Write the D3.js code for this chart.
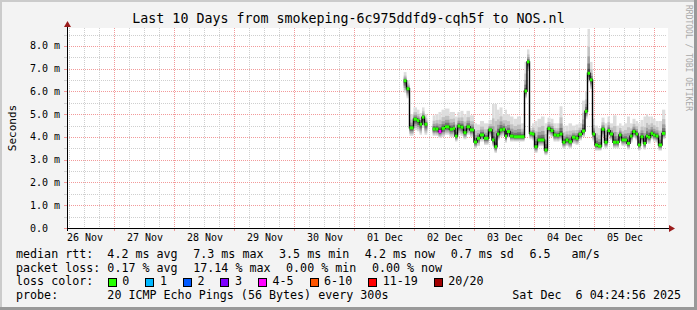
<!DOCTYPE html>
<html>
<head>
<meta charset="utf-8">
<script src="https://cdn.jsdelivr.net/npm/d3@7"></script>
<style>
  body { margin: 0; background: #f3f3f3; }
  svg { display: block; }
  text { font-family: "DejaVu Sans Mono", monospace; white-space: pre; }
</style>
</head>
<body>
<div id="chart"></div>
<script>
// smokeping style latency graph, last 10 days

// time axis (UTC)
const tStart = Date.UTC(2025, 10, 26, 5, 12);
const tEnd = Date.UTC(2025, 11, 6, 5, 12);
const dayLabels = ['26 Nov', '27 Nov', '28 Nov', '29 Nov', '30 Nov', '01 Dec', '02 Dec', '03 Dec', '04 Dec', '05 Dec'];

// y ticks (ms)
const yTicks = [0, 1, 2, 3, 4, 5, 6, 7, 8];
const yTickLabels = ['0.0', '1.0 m', '2.0 m', '3.0 m', '4.0 m', '5.0 m', '6.0 m', '7.0 m', '8.0 m'];

// samples: hours after 01 Dec 00:00
const hours = [20.4, 21.6, 22.8, 24.8, 25.6, 26.8, 27.6, 28.8, 30.4, 32.0, 33.2, 34.4, 35.6, 37.2, 39.2, 40.0, 40.8, 42.0, 43.2, 44.4, 45.6, 47.2,
  48.8, 49.6, 51.2, 52.8, 54.8, 55.6, 56.8, 57.6, 58.8, 60.0, 60.8, 61.6, 63.2, 64.4, 66.0, 67.6, 68.8, 69.6, 70.8, 71.6,
  72.8, 74.0, 75.6, 76.8, 78.0, 79.2, 80.4, 81.6, 82.8, 84.0, 85.2, 86.4, 88.0, 89.2, 90.4, 92.0, 92.8, 94.0, 94.8,
  96.0, 96.8, 98.4, 99.6, 100.8, 102.0, 102.8, 104.4, 105.6, 106.4, 107.6, 108.4, 110.0, 110.8, 112.0, 113.2, 114.0,
  115.2, 116.4, 117.2, 118.0, 119.2, 120.0, 121.2, 122.4, 124.0];
// median rtt (ms)
const medianMs = [6.47, 6.12, 4.40, 4.78, 4.72, 4.56, 4.87, 4.56, null, 4.35, 4.35, 4.24, 4.38, 4.45, 4.34, 4.38, 4.04, 4.48, 4.43, 4.19, 4.45, 4.31,
  3.78, 3.94, 4.09, 3.94, 4.31, 3.87, 3.57, 4.13, 4.31, 4.34, 4.04, 4.24, 4.04, 4.01, 4.01, 4.01, 6.02, 7.30, 4.16, 4.13,
  3.57, 3.87, 3.87, 3.43, 4.37, 4.28, 4.09, 4.07, 4.13, 3.77, 3.87, 3.79, 3.99, 3.94, 4.12, 4.26, 5.13, 6.80, 6.51,
  4.13, 3.65, 3.60, 4.34, 3.77, 4.28, 4.13, 3.77, 3.77, 4.09, 3.87, 3.87, 3.72, 4.04, 4.24, 4.13, 3.65,
  4.01, 3.72, 4.04, 3.99, 4.16, 4.09, 4.04, 3.65, 4.16];
// slowest ping (top of smoke, ms)
const smokeHiMs = [6.85, 6.5, 5.0, 5.3, 5.2, 5.05, 5.3, 5.0, null, 4.95, 5.0, 5.1, 5.2, 5.25, 5.1, 5.1, 4.9, 5.1, 5.15, 5.0, 5.15, 4.95,
  4.6, 4.55, 4.7, 4.6, 4.75, 5.45, 5.45, 5.2, 5.3, 5.0, 5.2, 5.0, 4.9, 4.8, 4.9, 4.6, 7.3, 7.85, 4.4, 4.6,
  4.7, 4.8, 4.9, 4.6, 4.85, 4.8, 4.6, 4.6, 5.35, 4.5, 4.5, 4.6, 4.5, 4.55, 4.6, 5.6, 6.0, 8.75, 7.3,
  4.8, 4.5, 4.4, 4.85, 4.6, 4.9, 4.6, 4.95, 4.5, 4.6, 4.5, 4.6, 4.9, 4.6, 4.8, 4.7, 4.6,
  4.75, 4.9, 5.0, 4.9, 4.9, 4.8, 4.7, 4.7, 5.2];
// fastest ping (bottom of smoke, ms)
const smokeLoMs = [5.95, 5.7, 4.05, 4.3, 4.25, 4.1, 4.4, 4.1, null, 4.05, 4.05, 3.95, 4.0, 4.1, 4.0, 4.0, 3.8, 4.1, 4.05, 3.9, 4.1, 4.0,
  3.5, 3.6, 3.8, 3.65, 4.0, 3.6, 3.3, 3.85, 4.0, 4.05, 3.75, 3.95, 3.8, 3.8, 3.8, 3.8, 5.7, 6.9, 3.9, 3.85,
  3.3, 3.6, 3.6, 3.2, 4.1, 4.0, 3.8, 3.8, 3.85, 3.5, 3.6, 3.5, 3.7, 3.65, 3.85, 4.0, 4.8, 6.4, 6.1,
  3.8, 3.4, 3.4, 4.0, 3.5, 4.0, 3.85, 3.5, 3.5, 3.8, 3.6, 3.6, 3.45, 3.75, 3.95, 3.85, 3.4,
  3.75, 3.45, 3.75, 3.7, 3.9, 3.8, 3.75, 3.4, 3.9];
// samples that lost pings
const lossHours = [34.4];
const lossCounts = [4];

// loss colour legend
const lossLabels = ['0', '1', '2', '3', '4-5', '6-10', '11-19', '20/20'];
const lossMax = [0, 1, 2, 3, 5, 10, 19, 20];
const lossColors = ['#26ff00', '#00b8ff', '#0059ff', '#7e00ff', '#ff00ff', '#ff5500', '#ff0000', '#a10000'];

// legend text
const rttStats = ['median rtt:  4.2 ms avg', '7.3 ms max', '3.5 ms min', '4.2 ms now', '0.7 ms sd', '6.5   am/s'];
const lossStats = ['packet loss: 0.17 % avg', '17.14 % max', '0.00 % min', '0.00 % now'];
const probeText = 'probe:       20 ICMP Echo Pings (56 Bytes) every 300s';
const stampText = 'Sat Dec  6 04:24:56 2025';
const titleText = 'Last 10 Days from smokeping-6c975ddfd9-cqh5f to NOS.nl';

const width = 697, height = 310;
const plotL = 67, plotR = 667, plotT = 28, plotB = 228;

const svg = d3.select('#chart').append('svg')
  .attr('width', width)
  .attr('height', height);

// frame
svg.append('rect').attr('width', width).attr('height', height).attr('fill', '#f3f3f3');
svg.append('rect').attr('x', 0).attr('y', 0).attr('width', width).attr('height', 2).attr('fill', '#cbcbcb');
svg.append('rect').attr('x', 0).attr('y', 0).attr('width', 2).attr('height', height).attr('fill', '#cbcbcb');
svg.append('rect').attr('x', width - 3).attr('y', 0).attr('width', 3).attr('height', height).attr('fill', '#999');
svg.append('rect').attr('x', 0).attr('y', height - 3).attr('width', width).attr('height', 3).attr('fill', '#999');

const x = d3.scaleUtc().domain([tStart, tEnd]).range([plotL, plotR]);
const y = d3.scaleLinear().domain([0, 8.79]).range([plotB, plotT]);
const px = v => Math.round(v) + 0.5;

// canvas
svg.append('rect')
  .attr('x', plotL).attr('y', plotT)
  .attr('width', plotR - plotL + 1).attr('height', plotB - plotT)
  .attr('fill', '#fff');

// grid
const grid = svg.append('g').attr('fill', 'none').attr('stroke-dasharray', '1,1');
const sixHours = d3.utcHour.every(6).range(tStart, tEnd).filter(d => d.getUTCHours() !== 0);
const midnights = d3.utcDay.range(tStart, tEnd);
grid.selectAll('.vmin').data(sixHours).enter().append('line')
  .attr('x1', d => px(x(d))).attr('x2', d => px(x(d)))
  .attr('y1', plotT).attr('y2', plotB)
  .attr('stroke', '#cfcfcf');
const halfTicks = d3.range(0.5, 8.79, 1);
grid.selectAll('.hmin').data(halfTicks).enter().append('line')
  .attr('x1', plotL).attr('x2', plotR)
  .attr('y1', d => px(y(d))).attr('y2', d => px(y(d)))
  .attr('stroke', '#cfcfcf');
grid.selectAll('.vmaj').data(midnights).enter().append('line')
  .attr('x1', d => px(x(d))).attr('x2', d => px(x(d)))
  .attr('y1', plotT).attr('y2', plotB)
  .attr('stroke', '#f29a9a');
grid.selectAll('.hmaj').data(yTicks.slice(1)).enter().append('line')
  .attr('x1', plotL).attr('x2', plotR)
  .attr('y1', d => px(y(d))).attr('y2', d => px(y(d)))
  .attr('stroke', '#f29a9a');

// samples
const dec1 = Date.UTC(2025, 11, 1);
const samples = hours.map((h, i) => ({
  t: dec1 + h * 3600e3,
  h: h,
  m: medianMs[i],
  hi: smokeHiMs[i],
  lo: smokeLoMs[i]
}));
samples.forEach((d, i) => {
  const xc = x(d.t);
  const prev = samples[i - 1], next = samples[i + 1];
  d.x0 = prev && prev.m != null ? (x(prev.t) + xc) / 2 : xc - 1.3;
  d.x1 = next && next.m != null ? (x(next.t) + xc) / 2 : xc + 1.3;
  const li = lossHours.indexOf(d.h);
  const lost = li >= 0 ? lossCounts[li] : 0;
  d.color = lossColors[lossMax.findIndex(m => lost <= m)];
});
const valid = samples.filter(d => d.m != null);

// smoke, outer (light) bands first
const upFrac = [1, 0.6, 0.38, 0.22, 0.1];
const downFrac = [1, 0.8, 0.6, 0.4, 0.2];
const smokeGrey = ['#dddddd', '#c2c2c2', '#a0a0a0', '#747474', '#474747'];
const smoke = svg.append('g');
upFrac.forEach((f, k) => {
  smoke.selectAll('.s' + k).data(valid).enter().append('rect')
    .attr('x', d => d.x0)
    .attr('width', d => d.x1 - d.x0)
    .attr('y', d => y(d.m + f * (d.hi - d.m)))
    .attr('height', d => y(d.m - downFrac[k] * (d.m - d.lo)) - y(d.m + f * (d.hi - d.m)))
    .attr('fill', smokeGrey[k]);
});

// median line
const line = d3.line()
  .defined(d => d.m != null)
  .x(d => x(d.t))
  .y(d => y(d.m))
  .curve(d3.curveStep);
svg.append('path')
  .datum(samples)
  .attr('d', line)
  .attr('fill', 'none')
  .attr('stroke', '#000')
  .attr('stroke-width', 1.4);

svg.append('g').selectAll('rect').data(valid).enter().append('rect')
  .attr('x', d => d.x0)
  .attr('width', d => d.x1 - d.x0)
  .attr('y', d => y(d.m) - 1.5)
  .attr('height', 3)
  .attr('fill', d => d.color);

// axes
const arrow = '#9b1c1c';
svg.append('line').attr('x1', plotL - 3).attr('x2', plotR + 2)
  .attr('y1', plotB + 0.5).attr('y2', plotB + 0.5).attr('stroke', '#000');
svg.append('path').attr('d', `M${plotR + 2},${plotB - 3}L${plotR + 8},${plotB + 0.5}L${plotR + 2},${plotB + 4}Z`).attr('fill', arrow);
svg.append('line').attr('x1', plotL + 0.5).attr('x2', plotL + 0.5)
  .attr('y1', plotB + 3).attr('y2', plotT - 1).attr('stroke', '#000');
svg.append('path').attr('d', `M${plotL - 3},${plotT - 1}L${plotL + 0.5},${plotT - 7}L${plotL + 4},${plotT - 1}Z`).attr('fill', arrow);

// axis ticks
svg.append('g').selectAll('line').data(midnights).enter().append('line')
  .attr('x1', d => px(x(d))).attr('x2', d => px(x(d)))
  .attr('y1', plotB + 1).attr('y2', plotB + 3)
  .attr('stroke', '#f29a9a');
svg.append('g').selectAll('line').data(yTicks.concat(halfTicks)).enter().append('line')
  .attr('x1', plotL - 3).attr('x2', plotL)
  .attr('y1', d => px(y(d))).attr('y2', d => px(y(d)))
  .attr('stroke', d => Number.isInteger(d) ? '#f29a9a' : '#cfcfcf');

// tick labels
svg.append('g').selectAll('text').data(yTicks).enter().append('text')
  .attr('x', 30)
  .attr('y', d => y(d) + 3.5)
  .attr('font-size', '10px')
  .attr('fill', '#000')
  .text((d, i) => yTickLabels[i]);
// day labels sit at noon of each day
const labelDays = d3.utcDay.range(d3.utcDay.floor(tStart), tEnd).slice(0, dayLabels.length);
svg.append('g').selectAll('text').data(labelDays).enter().append('text')
  .attr('x', d => x(d3.utcHour.offset(d, 12)) + 1)
  .attr('y', 241)
  .attr('text-anchor', 'middle')
  .attr('font-size', '10px')
  .attr('fill', '#000')
  .text((d, i) => dayLabels[i]);

// title and labels
svg.append('text').attr('x', 348.5).attr('y', 23)
  .attr('text-anchor', 'middle').attr('font-size', '13.3px').attr('fill', '#000')
  .text(titleText);
svg.append('text').attr('transform', 'translate(15.5,128) rotate(-90)')
  .attr('text-anchor', 'middle').attr('font-size', '11px').attr('fill', '#000')
  .text('Seconds');
svg.append('text').attr('transform', 'translate(685.5,5) rotate(90)')
  .attr('font-size', '8px').attr('fill', '#a8a8a8')
  .text('RRDTOOL / TOBI OETIKER');

// legend
const lf = 11.68, pitch = 0.602 * lf, gap = 15.5;
function legendRow(items, yb) {
  let cx = 16;
  items.forEach(s => {
    svg.append('text').attr('x', cx).attr('y', yb)
      .attr('font-size', lf + 'px').attr('fill', '#000').text(s);
    cx += s.length * pitch + gap;
  });
}
legendRow(rttStats, 258);
legendRow(lossStats, 271.7);

svg.append('text').attr('x', 16).attr('y', 285.4)
  .attr('font-size', lf + 'px').attr('fill', '#000').text('loss color:');
let bx = 16 + 11 * pitch + 14.5;
lossLabels.forEach((lab, i) => {
  svg.append('rect').attr('x', Math.round(bx) + 0.5).attr('y', 278.5)
    .attr('width', 8).attr('height', 8)
    .attr('fill', lossColors[i]).attr('stroke', '#000');
  svg.append('text').attr('x', bx + 14.5).attr('y', 285.4)
    .attr('font-size', lf + 'px').attr('fill', '#000').text(lab);
  bx += 14.5 + lab.length * pitch + 16;
});

svg.append('text').attr('x', 16).attr('y', 299)
  .attr('font-size', lf + 'px').attr('fill', '#000').text(probeText);
svg.append('text').attr('x', 681).attr('y', 299).attr('text-anchor', 'end')
  .attr('font-size', lf + 'px').attr('fill', '#000').text(stampText);
</script>
</body>
</html>
